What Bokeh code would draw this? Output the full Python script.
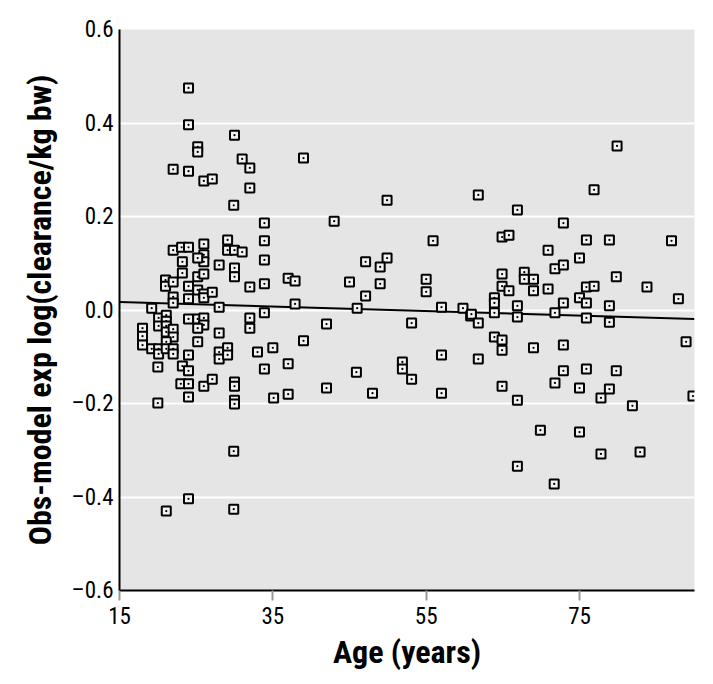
from bokeh.plotting import figure
from bokeh.embed import file_html
from bokeh.resources import INLINE
from bokeh.models import FixedTicker, CustomJSTickFormatter, Range1d

age = [24.0, 24.0, 25.2, 25.2, 22.0, 24.0, 26.0, 27.1, 30.0, 31.0,
       32.0, 32.0, 29.9, 33.9, 39.0, 43.0, 33.9, 33.9, 33.9, 33.9,
       29.1, 29.1, 30.0, 31.0, 30.0, 30.0, 32.0, 28.0, 22.0, 23.1,
       24.0, 26.0, 26.0, 26.0, 25.2, 23.2, 23.2, 21.0, 21.0, 22.0,
       24.0, 25.2, 26.0, 25.2, 26.0, 26.0, 27.1, 22.0, 22.0, 24.0,
       19.2, 28.0, 32.0, 32.0, 37.9, 37.0, 37.9, 42.0, 45.0, 46.0,
       20.1, 20.1, 21.1, 21.1, 21.1, 21.1, 22.0, 22.0, 18.0, 18.0,
       18.0, 19.2, 20.1, 20.1, 21.1, 21.1, 22.0, 22.0, 24.0, 25.2,
       26.0, 26.0, 25.2, 25.2, 24.0, 28.0, 28.0, 28.0, 29.1, 29.1,
       33.0, 33.9, 35.0, 37.0, 35.1, 37.0, 39.0, 42.0, 45.9, 48.0,
       47.1, 49.0, 53.1, 51.9, 51.9, 53.1, 57.0, 57.0, 57.0, 59.8,
       60.8, 55.0, 49.9, 47.1, 49.9, 49.0, 55.0, 55.9, 79.9, 61.8,
       66.9, 76.9, 72.9, 64.9, 65.8, 75.9, 78.9, 87.0, 70.9, 75.0,
       71.8, 72.9, 64.9, 67.8, 67.8, 69.0, 79.8, 64.9, 65.8, 69.0,
       70.9, 75.9, 76.9, 83.8, 87.9, 63.9, 63.9, 60.9, 61.8, 63.9,
       66.9, 66.9, 71.8, 72.9, 75.0, 75.9, 75.9, 78.9, 78.9, 63.9,
       64.9, 64.9, 61.8, 69.0, 72.9, 88.9, 72.9, 75.9, 79.8, 71.8,
       64.9, 75.0, 78.9, 77.8, 66.9, 89.8, 81.9, 69.9, 75.0, 66.9,
       71.7, 77.8, 82.9, 29.9, 24.0, 21.1, 29.9, 20.0, 23.2, 24.0,
       23.0, 24.0, 26.0, 27.1, 30.0, 30.0, 24.0, 30.0, 30.0, 20.0]

resid = [0.475, 0.396, 0.349, 0.338, 0.301, 0.297, 0.276, 0.280, 0.374, 0.323,
         0.304, 0.261, 0.224, 0.186, 0.325, 0.190, 0.148, 0.107, 0.056, -0.006,
         0.150, 0.128, 0.128, 0.124, 0.090, 0.071, 0.049, 0.096, 0.128, 0.134,
         0.134, 0.141, 0.118, 0.103, 0.111, 0.103, 0.079, 0.064, 0.051, 0.060,
         0.051, 0.071, 0.077, 0.043, 0.034, 0.026, 0.038, 0.028, 0.015, 0.024,
         0.004, 0.006, -0.017, -0.039, 0.013, 0.068, 0.062, -0.030, 0.060, 0.004,
         -0.017, -0.034, -0.011, -0.024, -0.034, -0.047, -0.041, -0.058, -0.039, -0.056,
         -0.075, -0.083, -0.083, -0.094, -0.068, -0.083, -0.083, -0.094, -0.019, -0.019,
         -0.017, -0.032, -0.039, -0.068, -0.096, -0.049, -0.090, -0.105, -0.081, -0.096,
         -0.090, -0.126, -0.081, -0.115, -0.188, -0.180, -0.066, -0.167, -0.133, -0.178,
         0.030, 0.056, -0.028, -0.111, -0.126, -0.148, 0.006, -0.096, -0.178, 0.004,
         -0.013, 0.039, 0.235, 0.103, 0.111, 0.092, 0.066, 0.148, 0.351, 0.246,
         0.214, 0.257, 0.186, 0.156, 0.160, 0.150, 0.150, 0.148, 0.128, 0.111,
         0.088, 0.096, 0.077, 0.081, 0.066, 0.066, 0.071, 0.051, 0.041, 0.041,
         0.045, 0.049, 0.051, 0.049, 0.024, 0.026, 0.015, -0.009, -0.028, -0.006,
         0.009, -0.015, -0.006, 0.015, 0.026, 0.015, -0.017, 0.009, -0.026, -0.058,
         -0.064, -0.086, -0.105, -0.081, -0.075, -0.068, -0.130, -0.126, -0.130, -0.156,
         -0.163, -0.167, -0.169, -0.188, -0.193, -0.184, -0.205, -0.257, -0.261, -0.334,
         -0.372, -0.308, -0.304, -0.302, -0.404, -0.430, -0.426, -0.122, -0.120, -0.130,
         -0.158, -0.158, -0.163, -0.148, -0.154, -0.163, -0.186, -0.193, -0.201, -0.199]

fit_age = [15, 90]
fit_resid = [0.017, -0.019]

x_ticks = [15, 35, 55, 75]
y_ticks = [-0.6, -0.4, -0.2, 0.0, 0.2, 0.4, 0.6]

p = figure(width=705, height=676, output_backend="svg", toolbar_location=None,
           x_range=Range1d(15, 90), y_range=Range1d(-0.6, 0.6),
           frame_width=575, frame_height=561,
           min_border_left=119, min_border_right=11, min_border_top=29, min_border_bottom=86)

p.background_fill_color = "#e5e5e5"
p.border_fill_color = "white"
p.outline_line_color = None

p.xgrid.grid_line_color = None
p.ygrid.grid_line_color = "white"
p.ygrid.grid_line_width = 2
p.ygrid.ticker = FixedTicker(ticks=y_ticks)

p.line(fit_age, fit_resid, line_color="black", line_width=2)
p.scatter(age, resid, marker="square_dot", size=9, line_color="black",
          line_width=2, fill_color="#f2f2f2")

font = "Roboto Condensed, DejaVu Sans Condensed, Liberation Sans Narrow, Roboto, sans-serif"

p.xaxis.ticker = FixedTicker(ticks=x_ticks)
p.yaxis.ticker = FixedTicker(ticks=y_ticks)
p.yaxis.formatter = CustomJSTickFormatter(code="return tick.toFixed(1).replace('-', '\u2013');")

for ax in (p.xaxis[0], p.yaxis[0]):
    ax.axis_line_color = "black"
    ax.axis_line_width = 2
    ax.minor_tick_line_color = None
    ax.major_label_text_font = font
    ax.major_label_text_font_size = "23px"
    ax.major_label_text_color = "black"
    ax.axis_label_text_font = font
    ax.axis_label_text_font_style = "bold"
    ax.axis_label_text_font_size = "32px"
    ax.axis_label_text_color = "black"

p.xaxis.major_tick_line_color = "#999999"
p.xaxis.major_tick_line_width = 2
p.xaxis.major_tick_out = 10
p.xaxis.major_tick_in = 0
p.xaxis.major_label_standoff = 6
p.xaxis.axis_label = "Age (years)"
p.xaxis.axis_label_standoff = 6

p.yaxis.major_tick_line_color = None
p.yaxis.major_tick_out = 0
p.yaxis.major_tick_in = 0
p.yaxis.major_label_standoff = 6
p.yaxis.axis_label = "Obs-model exp log(clearance/kg bw)"
p.yaxis.axis_label_standoff = 10

open("out.html", "w").write(file_html(p, INLINE))
